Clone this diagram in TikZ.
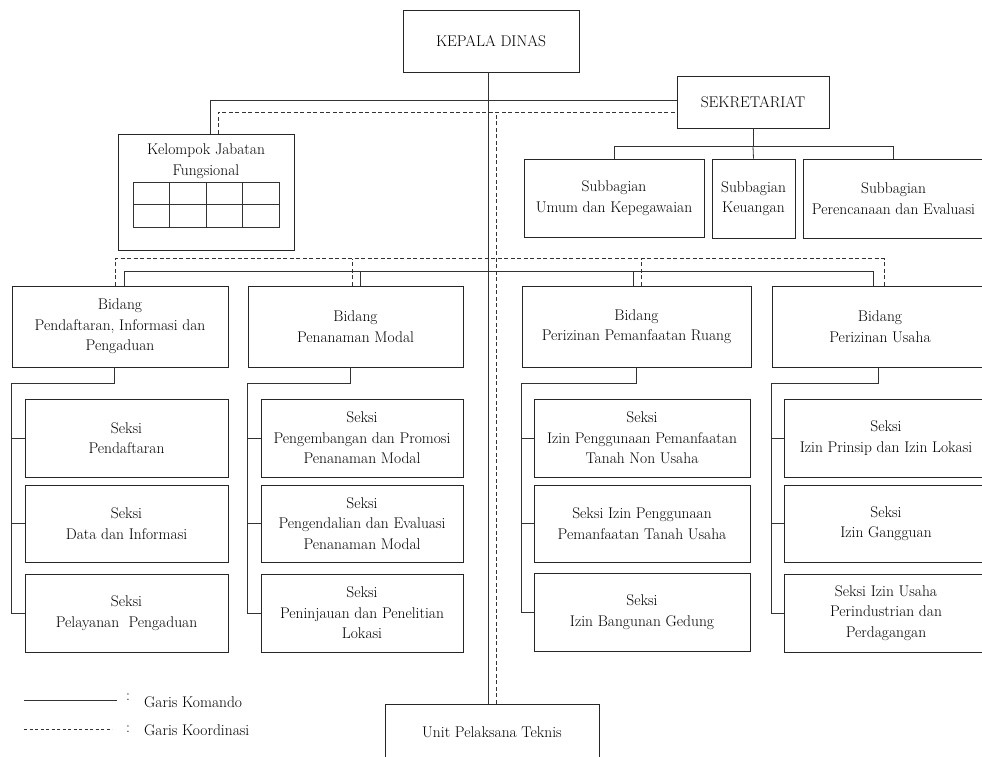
\documentclass[tikz,border=0pt]{standalone}
\usepackage{fontspec}
\usepackage{tikz}

\begin{document}
\begin{tikzpicture}[x=1pt,y=-1pt,
	teks/.style={inner sep=0pt,align=center,font=\fontsize{15.5}{20.5}\selectfont},
	kotak/.style={teks,draw=black!85,line width=0.9pt},
	garis/.style={draw=black!80,line width=0.8pt},
	koord/.style={garis,dash pattern=on 4pt off 2.5pt}]
	\clip (0,0) rectangle (982,756);
	\node[kotak,minimum width=176,minimum height=62] (kepala) at (491,41) {KEPALA DINAS};
	\node[kotak,minimum width=152,minimum height=52] (sekre) at (753,102) {SEKRETARIAT};
	\node[kotak,minimum width=180,minimum height=78] (sub1) at (614,198) {Subbagian\\Umum dan Kepegawaian};
	\node[kotak,minimum width=83,minimum height=79] (sub2) at (753.5,198.5) {Subbagian\\Keuangan};
	\node[kotak,minimum width=181,minimum height=79] (sub3) at (893.5,198.5) {Subbagian\\Perencanaan dan Evaluasi};
	\node[kotak,minimum width=176,minimum height=116] (kelompok) at (206,192) {};
	\node[teks] (kelompokjudul) at (206,161) {Kelompok Jabatan\\Fungsional};
	\draw[garis] (133,182) rectangle (279,227);
	\draw[garis] (133,204.5) -- (279,204.5);
	\draw[garis] (169.5,182) -- (169.5,227);
	\draw[garis] (206,182) -- (206,227);
	\draw[garis] (242.5,182) -- (242.5,227);
	\node[kotak,minimum width=216,minimum height=81] (bid1) at (120,326.5) {Bidang\\Pendaftaran, Informasi dan\\Pengaduan};
	\node[kotak,minimum width=215,minimum height=81] (bid2) at (355.5,326.5) {Bidang\\Penanaman Modal};
	\node[kotak,minimum width=229,minimum height=81] (bid3) at (636.5,326.5) {Bidang\\Perizinan Pemanfaatan Ruang};
	\node[kotak,minimum width=216,minimum height=81] (bid4) at (880,326.5) {Bidang\\Perizinan Usaha};
	\node[kotak,minimum width=203,minimum height=78] (s11) at (126.5,438) {Seksi\\Pendaftaran};
	\node[kotak,minimum width=203,minimum height=77] (s12) at (126.5,523.5) {Seksi\\Data dan Informasi};
	\node[kotak,minimum width=203,minimum height=78] (s13) at (126.5,613) {Seksi\\Pelayanan\ \ Pengaduan};
	\node[kotak,minimum width=202,minimum height=78] (s21) at (362,438) {Seksi\\Pengembangan dan Promosi\\Penanaman Modal};
	\node[kotak,minimum width=202,minimum height=77] (s22) at (362,523.5) {Seksi\\Pengendalian dan Evaluasi\\Penanaman Modal};
	\node[kotak,minimum width=202,minimum height=78] (s23) at (362,613) {Seksi\\Peninjauan dan Penelitian\\Lokasi};
	\node[kotak,minimum width=216,minimum height=78] (s31) at (642,438) {Seksi\\Izin Penggunaan Pemanfaatan\\Tanah Non Usaha};
	\node[kotak,minimum width=216,minimum height=77] (s32) at (642,523.5) {Seksi Izin Penggunaan\\Pemanfaatan Tanah Usaha};
	\node[kotak,minimum width=216,minimum height=78] (s33) at (642,612) {Seksi\\Izin Bangunan Gedung};
	\node[kotak,minimum width=204,minimum height=78] (s41) at (886,438) {Seksi\\Izin Prinsip dan Izin Lokasi};
	\node[kotak,minimum width=204,minimum height=77] (s42) at (886,523.5) {Seksi\\Izin Gangguan};
	\node[kotak,minimum width=204,minimum height=78] (s43) at (886,613) {Seksi Izin Usaha\\Perindustrian dan\\Perdagangan};
	\node[kotak,minimum width=214,minimum height=56] (upt) at (492,732) {Unit Pelaksana Teknis};

	\draw[garis] ([xshift=-3]kepala.south) -- ([xshift=-4]upt.north);
	\draw[koord] ([xshift=4]upt.north) -- ++(0,-592);
	\draw[garis] ([xshift=4]kelompok.north) |- ([yshift=2]sekre.west);
	\draw[koord] ([xshift=12]kelompok.north) |- ([yshift=-10]sekre.west);
	\draw[garis] (sekre.south) -- ++(0,18) coordinate (sk);
	\draw[garis] (sub1.north) |- (sk) -| (sub3.north);
	\draw[garis] (sk) -- (sub2.north);

	\draw[garis] ([xshift=4]bid1.north) -- ++(0,-14) -| ([xshift=-7]bid4.north);
	\draw[garis] ([xshift=4.5]bid2.north) -- ++(0,-14);
	\draw[garis] ([xshift=-3.5]bid3.north) -- ++(0,-14);
	\draw[koord] ([xshift=-5]bid1.north) -- ++(0,-27) -| ([xshift=4]bid4.north);
	\draw[koord] ([xshift=-3.5]bid2.north) -- ++(0,-27);
	\draw[koord] ([xshift=4.5]bid3.north) -- ++(0,-27);

	\draw[garis] ([xshift=-6]bid1.south) -- ++(0,16) -| (bid1.west |- s13.west) -- (s13.west);
	\draw[garis] (s11.west) -- (bid1.west |- s11.west);
	\draw[garis] (s12.west) -- (bid1.west |- s12.west);
	\draw[garis] ([xshift=-5.5]bid2.south) -- ++(0,16) -| (bid2.west |- s23.west) -- (s23.west);
	\draw[garis] (s21.west) -- (bid2.west |- s21.west);
	\draw[garis] (s22.west) -- (bid2.west |- s22.west);
	\draw[garis] (bid3.south) -- ++(0,16) -| (bid3.west |- s33.west) -- (s33.west);
	\draw[garis] (s31.west) -- (bid3.west |- s31.west);
	\draw[garis] (s32.west) -- (bid3.west |- s32.west);
	\draw[garis] ([xshift=-2]bid4.south) -- ++(0,16) -| (bid4.west |- s43.west) -- (s43.west);
	\draw[garis] (s41.west) -- (bid4.west |- s41.west);
	\draw[garis] (s42.west) -- (bid4.west |- s42.west);

	\coordinate (lk1) at (24,700);
	\coordinate (lk2) at (117,700);
	\coordinate (ld1) at (24,729);
	\coordinate (ld2) at (112,729);
	\draw[garis] (lk1) -- (lk2);
	\draw[garis,dash pattern=on 3pt off 2.5pt] (ld1) -- (ld2);
	\node[teks] (titik1) at (128,697) {:};
	\node[teks] (titik2) at (128,729) {:};
	\node[teks,anchor=west] (komando) at (144,702) {Garis Komando};
	\node[teks,anchor=west] (koordinasi) at (144,730) {Garis Koordinasi};
\end{tikzpicture}
\end{document}
